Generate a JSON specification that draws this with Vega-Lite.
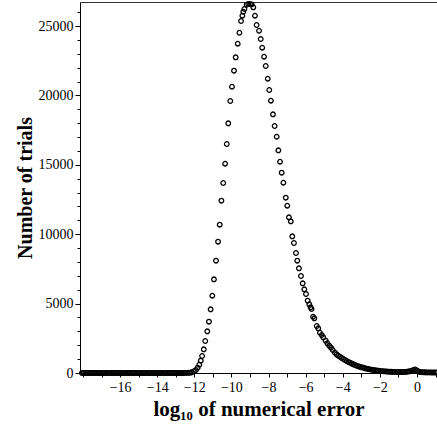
{
  "$schema": "https://vega.github.io/schema/vega-lite/v6.json",
  "width": 357,
  "height": 371,
  "autosize": {"type": "none"},
  "padding": {"left": 80, "top": 2, "right": 0, "bottom": 59},
  "config": {"view": {"stroke": null}, "font": "Liberation Serif"},
  "data": {"values": [
    {"e": -18.06, "n": 0}, {"e": -17.97, "n": 0}, {"e": -17.88, "n": 0}, {"e": -17.79, "n": 0}, {"e": -17.70, "n": 0},
    {"e": -17.61, "n": 0}, {"e": -17.52, "n": 0}, {"e": -17.43, "n": 0}, {"e": -17.34, "n": 0}, {"e": -17.25, "n": 0},
    {"e": -17.16, "n": 0}, {"e": -17.07, "n": 0}, {"e": -16.98, "n": 0}, {"e": -16.89, "n": 0}, {"e": -16.80, "n": 0},
    {"e": -16.71, "n": 0}, {"e": -16.62, "n": 0}, {"e": -16.53, "n": 0}, {"e": -16.44, "n": 0}, {"e": -16.35, "n": 0},
    {"e": -16.26, "n": 0}, {"e": -16.17, "n": 0}, {"e": -16.08, "n": 0}, {"e": -15.99, "n": 0}, {"e": -15.90, "n": 0},
    {"e": -15.81, "n": 0}, {"e": -15.72, "n": 0}, {"e": -15.63, "n": 0}, {"e": -15.54, "n": 0}, {"e": -15.45, "n": 0},
    {"e": -15.36, "n": 0}, {"e": -15.27, "n": 0}, {"e": -15.18, "n": 0}, {"e": -15.09, "n": 0}, {"e": -15.00, "n": 0},
    {"e": -14.91, "n": 0}, {"e": -14.82, "n": 0}, {"e": -14.73, "n": 0}, {"e": -14.64, "n": 0}, {"e": -14.55, "n": 0},
    {"e": -14.46, "n": 0}, {"e": -14.37, "n": 0}, {"e": -14.28, "n": 0}, {"e": -14.19, "n": 0}, {"e": -14.10, "n": 0},
    {"e": -14.01, "n": 0}, {"e": -13.92, "n": 0}, {"e": -13.83, "n": 0}, {"e": -13.74, "n": 0}, {"e": -13.65, "n": 0},
    {"e": -13.56, "n": 0}, {"e": -13.47, "n": 0}, {"e": -13.38, "n": 0}, {"e": -13.29, "n": 0}, {"e": -13.20, "n": 0},
    {"e": -13.11, "n": 0}, {"e": -13.02, "n": 0}, {"e": -12.93, "n": 0}, {"e": -12.84, "n": 0}, {"e": -12.75, "n": 0},
    {"e": -12.66, "n": 2}, {"e": -12.57, "n": 4}, {"e": -12.48, "n": 7}, {"e": -12.39, "n": 11}, {"e": -12.30, "n": 17},
    {"e": -12.22, "n": 28}, {"e": -12.14, "n": 50}, {"e": -12.02, "n": 122}, {"e": -11.91, "n": 216}, {"e": -11.82, "n": 382},
    {"e": -11.73, "n": 598}, {"e": -11.65, "n": 886}, {"e": -11.58, "n": 1225}, {"e": -11.49, "n": 1707}, {"e": -11.41, "n": 2305},
    {"e": -11.30, "n": 3004}, {"e": -11.21, "n": 3696}, {"e": -11.12, "n": 4589}, {"e": -11.03, "n": 5569}, {"e": -10.94, "n": 6751},
    {"e": -10.83, "n": 8091}, {"e": -10.72, "n": 9460}, {"e": -10.63, "n": 10685}, {"e": -10.54, "n": 12414}, {"e": -10.44, "n": 13689},
    {"e": -10.34, "n": 15079}, {"e": -10.25, "n": 16499}, {"e": -10.17, "n": 17990}, {"e": -10.06, "n": 19597}, {"e": -9.97, "n": 20627},
    {"e": -9.86, "n": 21780}, {"e": -9.77, "n": 22745}, {"e": -9.66, "n": 23725}, {"e": -9.57, "n": 24517}, {"e": -9.48, "n": 25360},
    {"e": -9.41, "n": 25742}, {"e": -9.36, "n": 26030}, {"e": -9.30, "n": 26225}, {"e": -9.18, "n": 26535}, {"e": -9.09, "n": 26585},
    {"e": -9.00, "n": 26585}, {"e": -8.91, "n": 26563}, {"e": -8.82, "n": 26347}, {"e": -8.73, "n": 25742}, {"e": -8.64, "n": 25072},
    {"e": -8.51, "n": 24661}, {"e": -8.42, "n": 24063}, {"e": -8.34, "n": 23437}, {"e": -8.24, "n": 22788}, {"e": -8.15, "n": 22118},
    {"e": -8.04, "n": 21203}, {"e": -7.96, "n": 20389}, {"e": -7.87, "n": 19618}, {"e": -7.76, "n": 18638}, {"e": -7.67, "n": 17795},
    {"e": -7.56, "n": 17024}, {"e": -7.47, "n": 16045}, {"e": -7.38, "n": 15223}, {"e": -7.29, "n": 14431}, {"e": -7.20, "n": 13710},
    {"e": -7.07, "n": 12630}, {"e": -6.99, "n": 12053}, {"e": -6.90, "n": 11218}, {"e": -6.80, "n": 10929}, {"e": -6.72, "n": 9849},
    {"e": -6.63, "n": 9366}, {"e": -6.52, "n": 8646}, {"e": -6.45, "n": 8091}, {"e": -6.36, "n": 7543}, {"e": -6.25, "n": 6988},
    {"e": -6.16, "n": 6463}, {"e": -6.07, "n": 6030}, {"e": -5.98, "n": 5692}, {"e": -5.89, "n": 5209}, {"e": -5.80, "n": 4950},
    {"e": -5.73, "n": 4733}, {"e": -5.68, "n": 4611}, {"e": -5.60, "n": 4056}, {"e": -5.53, "n": 3941}, {"e": -5.40, "n": 3386},
    {"e": -5.32, "n": 3220}, {"e": -5.23, "n": 2903}, {"e": -5.13, "n": 2738}, {"e": -5.05, "n": 2572}, {"e": -4.92, "n": 2327},
    {"e": -4.83, "n": 2140}, {"e": -4.73, "n": 1967}, {"e": -4.63, "n": 1823}, {"e": -4.54, "n": 1657}, {"e": -4.42, "n": 1463},
    {"e": -4.33, "n": 1340}, {"e": -4.24, "n": 1240}, {"e": -4.15, "n": 1174}, {"e": -4.06, "n": 1090}, {"e": -3.97, "n": 1009},
    {"e": -3.88, "n": 935}, {"e": -3.79, "n": 865}, {"e": -3.70, "n": 800}, {"e": -3.61, "n": 742}, {"e": -3.52, "n": 685},
    {"e": -3.43, "n": 627}, {"e": -3.34, "n": 575}, {"e": -3.25, "n": 525}, {"e": -3.16, "n": 485}, {"e": -3.07, "n": 445},
    {"e": -2.98, "n": 411}, {"e": -2.89, "n": 375}, {"e": -2.80, "n": 345}, {"e": -2.71, "n": 310}, {"e": -2.62, "n": 285},
    {"e": -2.53, "n": 262}, {"e": -2.44, "n": 240}, {"e": -2.35, "n": 216}, {"e": -2.26, "n": 200}, {"e": -2.17, "n": 185},
    {"e": -2.08, "n": 168}, {"e": -1.99, "n": 150}, {"e": -1.90, "n": 138}, {"e": -1.81, "n": 125}, {"e": -1.72, "n": 115},
    {"e": -1.63, "n": 105}, {"e": -1.54, "n": 98}, {"e": -1.45, "n": 92}, {"e": -1.36, "n": 86}, {"e": -1.27, "n": 82},
    {"e": -1.18, "n": 78}, {"e": -1.09, "n": 75}, {"e": -1.00, "n": 72}, {"e": -0.91, "n": 70}, {"e": -0.82, "n": 72},
    {"e": -0.73, "n": 75}, {"e": -0.64, "n": 80}, {"e": -0.55, "n": 88}, {"e": -0.46, "n": 105}, {"e": -0.37, "n": 130},
    {"e": -0.28, "n": 165}, {"e": -0.19, "n": 215}, {"e": -0.10, "n": 265}, {"e": -0.01, "n": 190}, {"e": 0.08, "n": 110},
    {"e": 0.17, "n": 75}, {"e": 0.26, "n": 60}, {"e": 0.35, "n": 55}, {"e": 0.44, "n": 50}, {"e": 0.53, "n": 48},
    {"e": 0.62, "n": 45}, {"e": 0.71, "n": 42}, {"e": 0.80, "n": 40}, {"e": 0.89, "n": 38}, {"e": 0.98, "n": 36},
    {"e": 1.07, "n": 35}
  ]},
  "layer": [
    {
      "mark": {"type": "point", "shape": "circle", "size": 21, "strokeWidth": 1.3, "color": "black", "filled": false, "opacity": 1},
      "encoding": {
        "x": {
          "field": "e", "type": "quantitative",
          "scale": {"domain": [-18.16, 1.08], "nice": false, "zero": false},
          "axis": {
            "values": [-18, -17, -16, -15, -14, -13, -12, -11, -10, -9, -8, -7, -6, -5, -4, -3, -2, -1, 0, 1],
            "labelExpr": "datum.value % 2 === 0 && datum.value >= -16 ? datum.label : ''",
            "grid": false, "tickSize": 4, "tickColor": "black", "domainColor": "black",
            "labelFont": "Liberation Serif", "labelFontSize": 14, "labelColor": "black", "labelPadding": 3,
            "labelFlush": false, "labelOverlap": false,
            "title": "log₁₀ of numerical error",
            "titleFont": "Liberation Serif", "titleFontSize": 21, "titleFontWeight": "bold", "titleColor": "black", "titlePadding": 4
          }
        },
        "y": {
          "field": "n", "type": "quantitative",
          "scale": {"domain": [0, 26730], "nice": false},
          "axis": {
            "values": [0, 1000, 2000, 3000, 4000, 5000, 6000, 7000, 8000, 9000, 10000, 11000, 12000, 13000, 14000, 15000, 16000, 17000, 18000, 19000, 20000, 21000, 22000, 23000, 24000, 25000, 26000],
            "format": "d",
            "labelExpr": "datum.value % 5000 === 0 ? datum.label : ''",
            "tickSize": {"condition": {"test": "datum.value % 5000 === 0", "value": 5}, "value": 3},
            "grid": false, "tickColor": "black", "domainColor": "black",
            "labelFont": "Liberation Serif", "labelFontSize": 14, "labelColor": "black", "labelPadding": 2,
            "labelFlush": false, "labelOverlap": false,
            "title": "Number of trials",
            "titleFont": "Liberation Serif", "titleFontSize": 20, "titleFontWeight": "bold", "titleColor": "black", "titlePadding": 3
          }
        }
      }
    },
    {
      "mark": {"type": "point", "opacity": 0},
      "encoding": {
        "x": {"field": "e", "type": "quantitative", "axis": {"orient": "top", "labels": false, "ticks": false, "title": null, "grid": false, "domainColor": "#333333"}}
      }
    }
  ],
  "resolve": {"axis": {"x": "independent"}}
}
